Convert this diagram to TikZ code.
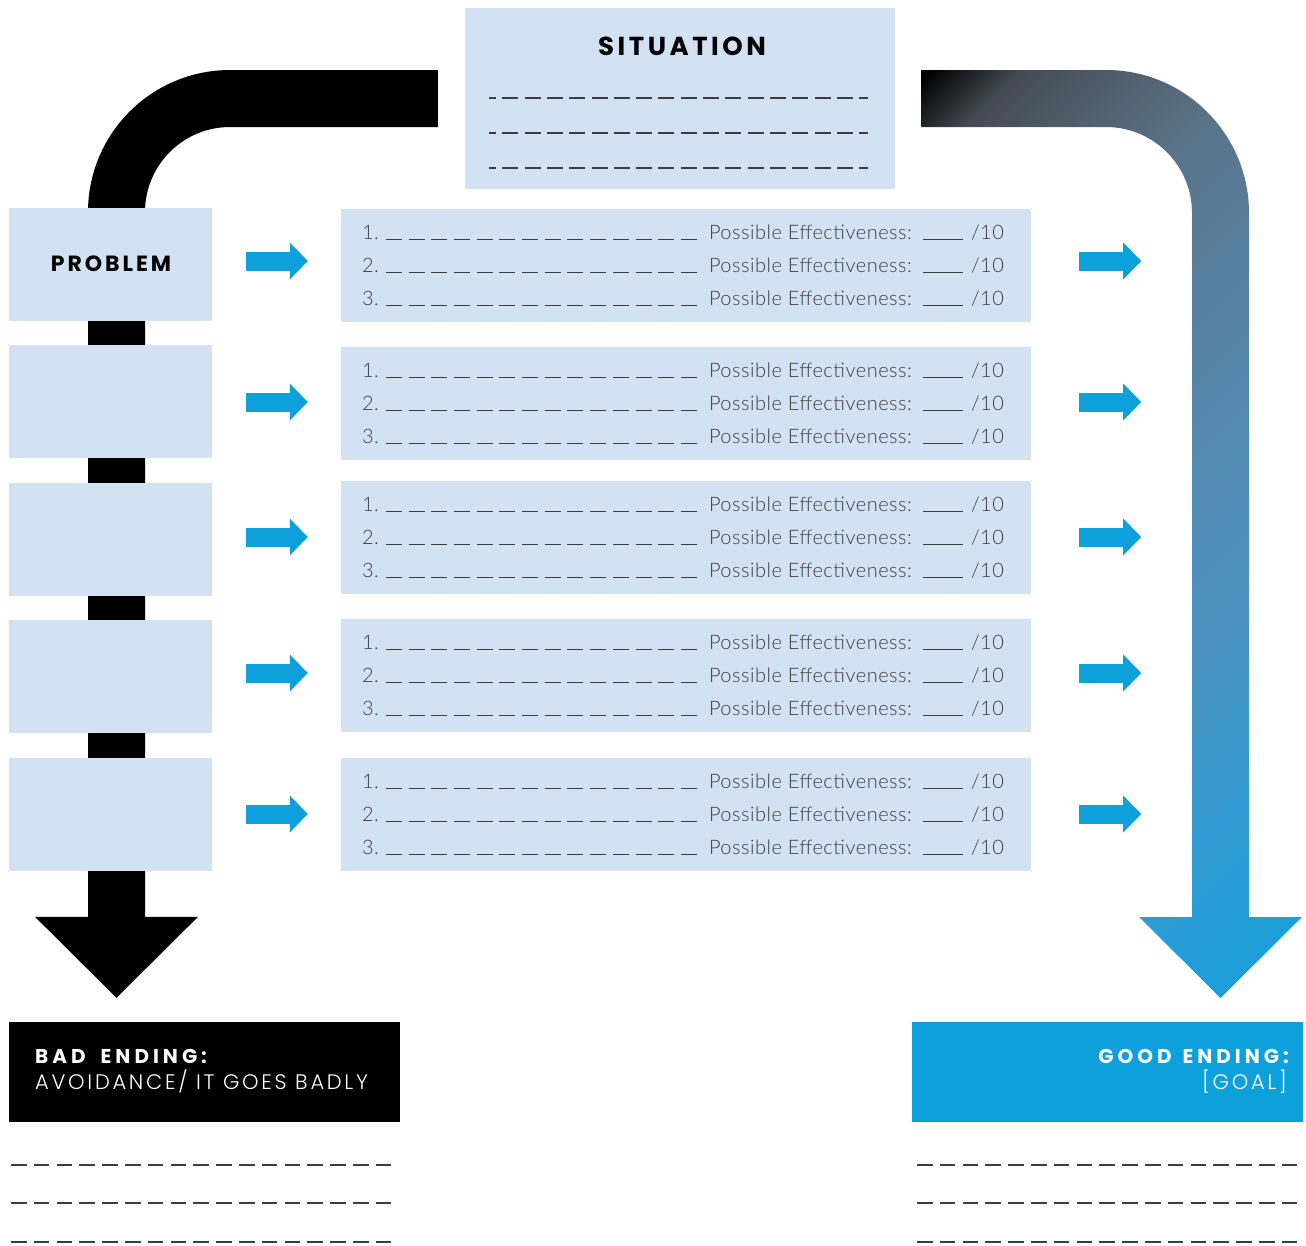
\documentclass[tikz,border=0pt]{standalone}
\usepackage{fontspec}
\setmainfont{Lato Light}[LetterSpace=2.5]
\newfontfamily\headfont{Poppins Bold}[LetterSpace=13.5]
\newfontfamily\widehead{Poppins Bold}[LetterSpace=20]
\newfontfamily\lightcaps{Poppins Light}[LetterSpace=13]
\usetikzlibrary{arrows.meta,backgrounds}

\definecolor{boxblue}{HTML}{D3E2F3}
\definecolor{flowblue}{HTML}{0EA0DB}
\definecolor{lineink}{HTML}{3A3D44}
\definecolor{bodyink}{HTML}{3A3C40}
\definecolor{gA}{HTML}{454C55}
\definecolor{gB}{HTML}{5A7286}
\definecolor{gC}{HTML}{5588AE}
\definecolor{gD}{HTML}{4A93C2}
\definecolor{gE}{HTML}{2C9CD4}
\definecolor{gF}{HTML}{12A0DC}
\pgfdeclarehorizontalshading{goodgrad}{100bp}{color(0bp)=(black); color(15bp)=(black); color(20bp)=(gA); color(32bp)=(gB); color(49bp)=(gC); color(62bp)=(gD); color(74bp)=(gE); color(85bp)=(gF); color(100bp)=(gF)}

\tikzset{
  lightbox/.style={fill=boxblue, inner sep=0pt, minimum height=113pt},
  probbox/.style={lightbox, minimum width=203pt},
  optbox/.style={lightbox, minimum width=690pt},
  headtext/.style={font=\headfont\fontsize{26}{30}\selectfont, inner sep=0pt},
  bodytext/.style={font=\fontsize{20}{22}\selectfont, text=bodyink, inner sep=0pt, anchor=base west},
  endtitle/.style={font=\widehead\fontsize{20}{24}\selectfont, text=white, inner sep=0pt},
  endsub/.style={font=\lightcaps\fontsize{21}{24}\selectfont, text=white, inner sep=0pt},
  sitdash/.style={lineink, line width=2pt, dash pattern=on 16pt off 6.3pt, dash phase=9pt},
  optdash/.style={bodyink, line width=1.4pt, dash pattern=on 16pt off 6.7pt},
  scoreline/.style={bodyink, line width=1.4pt},
  notedash/.style={lineink, line width=2pt, dash pattern=on 15.5pt off 7.3pt},
  flowarrow/.style={flowblue, line width=19pt, -{Triangle[length=18pt,width=37pt,line width=0pt]}},
  badband/.style={black, line width=57pt, rounded corners=113.5pt, -{Triangle[length=81pt,width=163pt,line width=0pt]}},
  endbox/.style={inner sep=0pt, minimum width=391pt, minimum height=100pt}
}

\begin{document}
\begin{tikzpicture}[x=1pt,y=-1pt]
\useasboundingbox (0,0) rectangle (1306,1245);

% situation
\node[lightbox, minimum width=430pt, minimum height=181pt] (sit) at (680,98.5) {};
\node[headtext] (sitlabel) at (682,46.5) {SITUATION};
\foreach \y in {98,133,168}
  \draw[sitdash] (489,\y) -- (868,\y);

% problems and options
\foreach \i/\yp/\yo in {1/264.5/265.5, 2/401.5/403.5, 3/539.5/537.5, 4/676.5/675.5, 5/814.5/814.5}{
  \node[probbox] (p\i) at (110.5,\yp) {};
  \node[optbox] (o\i) at (686,\yo) {};
}
\node[headtext, font=\headfont\fontsize{22}{26}\selectfont] (problabel) at (111,263.5) {PROBLEM};

\foreach \i/\up in {1/4.5pt, 2/1.5pt, 3/0.5pt, 4/2.5pt, 5/0.5pt}{
  \draw[flowarrow] ([xshift=-95pt,yshift=\up]o\i.west) -- ([xshift=-33pt,yshift=\up]o\i.west);
  \draw[flowarrow] ([xshift=48pt,yshift=\up]o\i.east) -- ([xshift=110pt,yshift=\up]o\i.east);
}

\foreach \i in {1,...,5}
  \foreach \k/\bl in {1/30.5pt,2/63.5pt,3/96.5pt}{
    \coordinate (l\i\k) at ([xshift=21pt,yshift=-\bl]o\i.north west);
    \node[bodytext] (num\i\k) at (l\i\k) {\k.};
    \draw[optdash] ([xshift=24pt]l\i\k) -- ([xshift=335pt]l\i\k);
    \node[bodytext] (eff\i\k) at ([xshift=347pt]l\i\k) {Possible Effectiveness:};
    \draw[scoreline] ([xshift=561pt]l\i\k) -- ([xshift=601pt]l\i\k);
    \node[bodytext] (ten\i\k) at ([xshift=609pt]l\i\k) {/10};
  }

% endings
\node[endbox, fill=black] (bad) at (204.5,1072) {};
\node[endbox, fill=flowblue] (good) at (1107,1072) {};
\node[endtitle, anchor=base west] (badtitle) at (35,1063) {BAD\hspace{15pt}ENDING:};
\node[endsub, anchor=base west] (badsub) at (35,1089) {AVOIDANCE/ IT GOES BADLY};
\node[endtitle, anchor=base east] (goodtitle) at (1289,1063) {GOOD\hspace{11pt}ENDING:};
\node[endsub, anchor=base east] (goodsub) at (1287,1089) {[GOAL]};
\foreach \y in {1165,1203,1242}{
  \draw[notedash] (11,\y) -- (392,\y);
  \draw[notedash] (917,\y) -- (1298,\y);
}

% the two roads
\coordinate (badcol) at (116.5,0);
\coordinate (badtip) at (badcol |- bad.north);
\begin{scope}[on background layer]
  \draw[badband] ([xshift=-27pt]sit.west) -| ([yshift=24pt]badtip);
\end{scope}
\shade[shading=goodgrad, shading angle=-45] (921,70) -- (1106,70)
  arc[start angle=90, end angle=0, radius=143pt] -- (1249,917) -- (1302,917)
  -- (1220.5,998) -- (1139,917) -- (1192,917) -- (1192,213)
  arc[start angle=0, end angle=90, radius=86pt] -- (921,127) -- cycle;
\end{tikzpicture}
\end{document}
